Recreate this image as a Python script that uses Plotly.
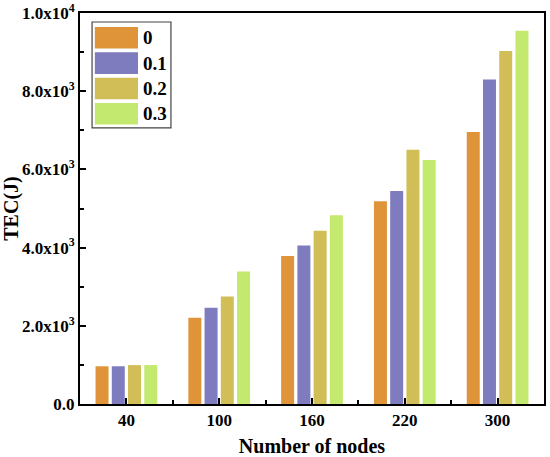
import plotly.graph_objects as go

# ---- data ----
nodes = ["40", "100", "160", "220", "300"]
series_names = ["0", "0.1", "0.2", "0.3"]
tec_0 = [965, 2205, 3785, 5185, 6955]
tec_01 = [965, 2460, 4055, 5450, 8300]
tec_02 = [995, 2750, 4430, 6505, 9025]
tec_03 = [995, 3390, 4830, 6240, 9545]
colors = ["#DF943A", "#7E7CBE", "#D2BE56", "#C3E96E"]

y_ticks = [0, 2000, 4000, 6000, 8000, 10000]
y_tick_text = ["0.0", "2.0x10<sup>3</sup>", "4.0x10<sup>3</sup>", "6.0x10<sup>3</sup>",
               "8.0x10<sup>3</sup>", "1.0x10<sup>4</sup>"]

FONT = "Liberation Serif"
x_pos = list(range(len(nodes)))

fig = go.Figure()
for name, vals, col in zip(series_names, [tec_0, tec_01, tec_02, tec_03], colors):
    fig.add_trace(go.Bar(x=x_pos, y=vals, name=name, marker=dict(color=col, line_width=0)))

# legend drawn by hand so the swatches look like the original (wide blocks)
sw_x0, sw_x1 = 0.032, 0.125
row_top, row_pitch, sw_h = 0.964, 0.0647, 0.055
fig.add_shape(type="rect", xref="paper", yref="paper", x0=0.026, x1=0.196, y0=0.706, y1=0.977,
              line=dict(color="#444", width=1.2), fillcolor="white", layer="above")
for i, (name, col) in enumerate(zip(series_names, colors)):
    y1 = row_top - i * row_pitch
    y0 = y1 - sw_h
    fig.add_shape(type="rect", xref="paper", yref="paper", x0=sw_x0, x1=sw_x1, y0=y0, y1=y1,
                  line_width=0, fillcolor=col, layer="above")
    fig.add_annotation(xref="paper", yref="paper", x=0.132, y=(y0 + y1) / 2,
                       text=f"<b>{name}</b>", showarrow=False, xanchor="left", yanchor="middle",
                       font=dict(family=FONT, size=19, color="black"))

fig.update_layout(
    width=550, height=457,
    margin=dict(l=80, r=6, t=13, b=53),
    paper_bgcolor="white", plot_bgcolor="white",
    barmode="group", bargap=0.3, bargroupgap=0.2,
    showlegend=False,
    font=dict(family=FONT, size=16, color="black"),
)
fig.update_xaxes(
    range=[-0.5, len(nodes) - 0.5], automargin=False,
    tickmode="array", tickvals=x_pos, ticktext=[f"<b>{n}</b>" for n in nodes],
    ticks="inside", ticklen=6, tickwidth=1.5, tickcolor="black",
    minor=dict(tickmode="array", tickvals=[p + 0.5 for p in x_pos[:-1]],
               ticks="inside", ticklen=4, tickwidth=1.5, tickcolor="black"),
    showline=True, linecolor="black", linewidth=2, mirror=True,
    showgrid=False, zeroline=False,
    title=dict(text="<b>Number of nodes</b>", font=dict(family=FONT, size=20), standoff=11),
    tickfont=dict(family=FONT, size=17),
)
fig.update_yaxes(
    range=[0, 10000], automargin=False,
    tickmode="array", tickvals=y_ticks, ticktext=[f"<b>{t}</b>" for t in y_tick_text],
    ticks="inside", ticklen=6, tickwidth=1.5, tickcolor="black",
    minor=dict(tickmode="array", tickvals=[1000, 3000, 5000, 7000, 9000],
               ticks="inside", ticklen=4, tickwidth=1.5, tickcolor="black"),
    showline=True, linecolor="black", linewidth=2, mirror=True,
    showgrid=False, zeroline=False,
    title=dict(text="<b>TEC(J)</b>", font=dict(family=FONT, size=20), standoff=0),
    tickfont=dict(family=FONT, size=17),
)

# drop the page's default body margin so the figure sits at the window's corner
fig.write_html("out.html", config={"displayModeBar": False},
               post_script="document.body.style.margin='0';")
